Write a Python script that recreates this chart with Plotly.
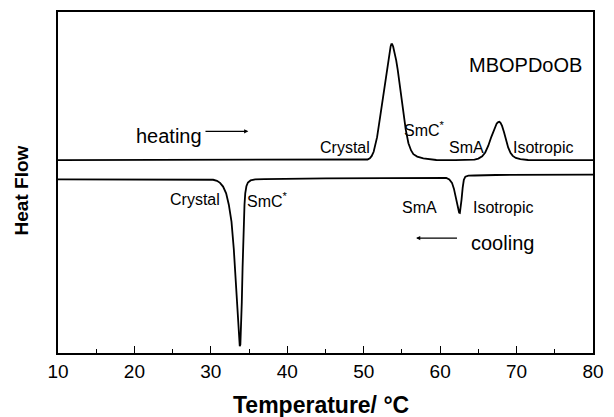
import plotly.graph_objects as go

# Heating DSC trace (temperature in °C, heat flow in arbitrary units, endo up)
heat_T = [10, 30, 45, 50.0, 50.5, 50.8, 51.05, 51.3, 51.55, 51.75, 52.1, 52.45, 52.75, 53.05,
          53.25, 53.4, 53.52, 53.62, 53.72, 53.85, 54.05, 54.25, 54.45, 54.8, 55.15, 55.5,
          55.85, 56.2, 56.5, 57.0, 57.8, 59.5, 62.0, 64.5, 65.0, 65.5, 65.9, 66.3, 66.7, 67.1,
          67.4, 67.6, 67.75, 67.9, 68.1, 68.35, 68.6, 68.9, 69.2, 69.5, 69.9, 70.5, 71.5, 80]
heat_v = [56.56, 56.56, 56.56, 56.6, 56.75, 57.1, 57.8, 59.0, 61.0, 63.3, 68.5, 74.0, 79.2, 84.0,
          86.8, 88.6, 89.9, 90.6, 90.6, 89.9, 88.0, 85.8, 83.0, 77.0, 71.0, 65.5,
          61.5, 59.4, 58.3, 57.6, 57.1, 56.6, 56.56, 56.7, 57.0, 57.7, 58.8, 60.8, 63.4, 66.0,
          67.3, 67.7, 67.8, 67.5, 66.6, 64.8, 62.6, 60.3, 58.7, 57.8, 57.2, 56.85, 56.6, 56.56]

# Cooling DSC trace (exotherm down)
cool_T = [10, 25, 29.5, 30.3, 30.8, 31.2, 31.6, 32.0, 32.35, 32.7, 33.0, 33.3, 33.55, 33.7,
          33.78, 33.86, 33.95, 34.05, 34.15, 34.27, 34.4, 34.5, 34.65, 34.85, 35.2, 35.8, 37.0,
          45, 55, 60.1, 60.8, 61.2, 61.55, 61.8, 62.0, 62.2, 62.35, 62.48, 62.58, 62.68, 62.8,
          62.95, 63.1, 63.3, 63.7, 64.5, 67.3, 80]
cool_v = [50.9, 50.9, 50.9, 50.8, 50.5, 49.9, 48.8, 46.8, 43.5, 38.5, 30.5, 20.0, 10.0, 3.5,
          2.0, 2.5, 6.5, 15.0, 25.0, 35.9, 43.5, 46.8, 48.9, 50.0, 50.6, 50.9, 51.0,
          51.2, 51.35, 51.46, 51.35, 50.9, 49.9, 48.2, 46.2, 44.0, 42.2, 41.2, 41.1, 42.5, 45.0,
          48.5, 50.8, 51.7, 52.0, 52.05, 52.2, 52.3]

x_ticks = [10, 20, 30, 40, 50, 60, 70, 80]

# Phase labels: (text, T, v)
heat_labels = [("Crystal", 47.5, 60.4), ("SmC<sup>*</sup>", 57.9, 65.8),
               ("SmA", 63.4, 60.2), ("Isotropic", 73.5, 60.2)]
cool_labels = [("Crystal", 27.9, 45.0), ("SmC<sup>*</sup>", 37.4, 45.0),
               ("SmA", 57.35, 42.6), ("Isotropic", 68.2, 42.6)]

FONT = "Liberation Sans, Arial, sans-serif"

fig = go.Figure()
fig.add_trace(go.Scatter(x=heat_T, y=heat_v, mode="lines",
                         line=dict(color="black", width=1.8),
                         showlegend=False, hoverinfo="skip"))
fig.add_trace(go.Scatter(x=cool_T, y=cool_v, mode="lines",
                         line=dict(color="black", width=1.8),
                         showlegend=False, hoverinfo="skip"))

ann = []
for t, x, y in heat_labels + cool_labels:
    ann.append(dict(x=x, y=y, xref="x", yref="y", text=t, showarrow=False,
                    font=dict(family=FONT, size=16, color="black"),
                    xanchor="center", yanchor="middle"))

ann.append(dict(x=71.15, y=84.5, xref="x", yref="y", text="MBOPDoOB", showarrow=False,
                font=dict(family=FONT, size=20, color="black")))
ann.append(dict(x=24.5, y=63.5, xref="x", yref="y", text="heating", showarrow=False,
                font=dict(family=FONT, size=20, color="black")))
ann.append(dict(x=68.2, y=32.4, xref="x", yref="y", text="cooling", showarrow=False,
                font=dict(family=FONT, size=20, color="black")))
# arrows
ann.append(dict(x=34.9, y=65.0, ax=29.1, ay=65.0, xref="x", yref="y", axref="x", ayref="y",
                text="", showarrow=True, arrowhead=2, arrowsize=0.7, arrowwidth=1.2,
                arrowcolor="black"))
ann.append(dict(x=56.85, y=33.7, ax=62.4, ay=33.7, xref="x", yref="y", axref="x", ayref="y",
                text="", showarrow=True, arrowhead=2, arrowsize=0.7, arrowwidth=1.2,
                arrowcolor="black"))
# axis titles
ann.append(dict(x=-0.069, y=0.477, xref="paper", yref="paper", text="<b>Heat Flow</b>",
                showarrow=False, textangle=-90,
                font=dict(family=FONT, size=19, color="black"),
                xanchor="center", yanchor="middle"))
ann.append(dict(x=0.492, y=-0.152, xref="paper", yref="paper", text="<b>Temperature/ °C</b>",
                showarrow=False, font=dict(family=FONT, size=23, color="black"),
                xanchor="center", yanchor="middle"))

fig.update_layout(
    width=614, height=417,
    margin=dict(l=58, r=16, t=10, b=64),
    paper_bgcolor="white", plot_bgcolor="white",
    annotations=ann,
    xaxis=dict(range=[10, 80], tickvals=x_ticks, ticks="inside", ticklen=7, tickwidth=1.3,
               tickcolor="black", showline=True, linecolor="black", linewidth=1.6,
               mirror=True, showgrid=False, zeroline=False,
               tickfont=dict(family=FONT, size=19, color="black"),
               minor=dict(dtick=5, ticks="inside", ticklen=4, tickwidth=1.1, tickcolor="black",
                          showgrid=False)),
    yaxis=dict(range=[0, 100], showticklabels=False, ticks="", showline=True,
               linecolor="black", linewidth=1.6, mirror=True, showgrid=False,
               zeroline=False),
)

fig.write_html("out.html")
